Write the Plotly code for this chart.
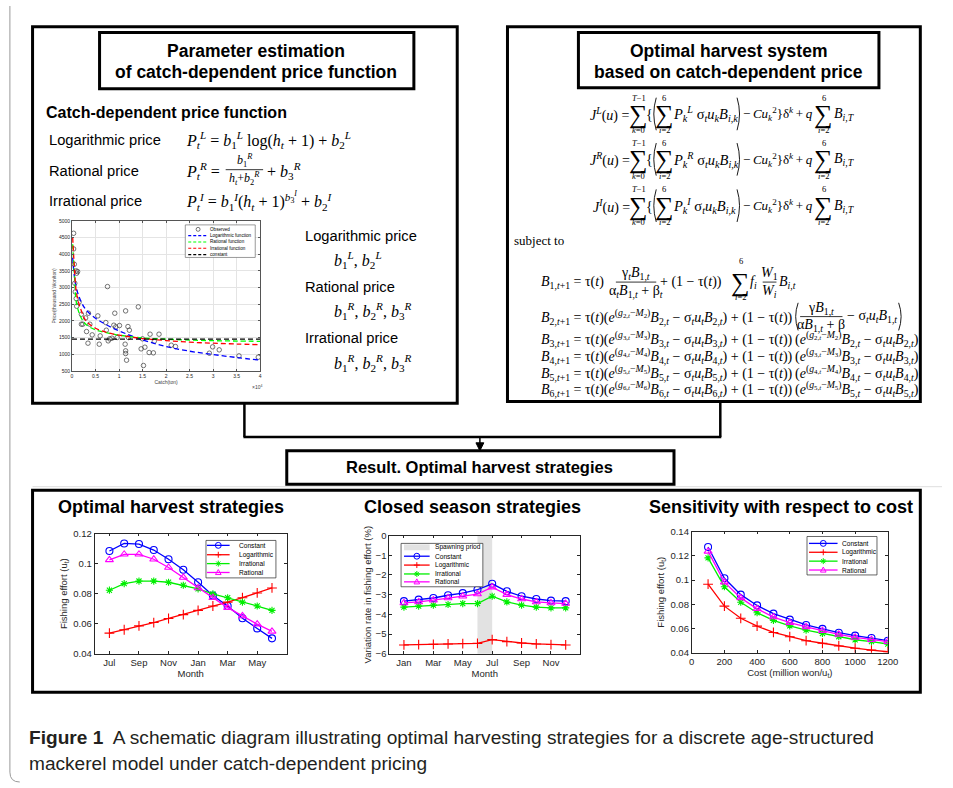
import plotly.graph_objects as go

W, H = 953, 788
SANS = "Liberation Sans, Arial, sans-serif"
SERIF = "Liberation Serif, Times New Roman, serif"
INK = "#262626"

# ---------------- data: price vs catch (top-left panel) ----------------
obs_catch = [0.035, 0.035, 0.05, 0.09, 0.12, 0.1, 0.06, 0.07, 0.09, 0.1, 0.15, 0.2, 0.2, 0.23,
             0.29, 0.31, 0.35, 0.38, 0.34, 0.43, 0.55, 0.58, 0.6, 0.755, 0.72, 0.73, 0.77, 0.8,
             0.85, 0.89, 0.91, 0.93, 1.01, 0.96, 1.14, 1.14, 1.16, 1.14, 1.19, 1.22, 1.2, 1.13,
             1.41, 1.47, 1.5, 1.52, 1.55, 1.64, 1.66, 1.73, 1.75, 1.85, 2.11, 2.2, 2.92, 2.99,
             3.13, 3.55, 3.96]
obs_price = [4630, 4160, 3700, 3500, 3480, 3430, 3130, 2870, 2670, 2440, 2560, 2200, 1900, 1900,
             2090, 1680, 2230, 1900, 1330, 1580, 2150, 1300, 1550, 3030, 1950, 1720, 1400, 1460,
             1480, 1870, 2230, 1820, 1860, 1500, 1100, 1020, 820, 2300, 1830, 1720, 1500, 1300,
             2420, 1160, 1460, 660, 1210, 1050, 1600, 1040, 1390, 1600, 1270, 1230, 1030, 1220,
             1130, 950, 910]
fit_catch = [0.015, 0.05, 0.1, 0.2, 0.3, 0.5, 0.75, 1.0, 1.5, 2.0, 2.5, 3.0, 3.5, 4.0]
fit_log = [3900, 3350, 2950, 2560, 2330, 2080, 1870, 1700, 1430, 1230, 1090, 990, 900, 820]
fit_rat = [4300, 3450, 2500, 2080, 1890, 1730, 1640, 1570, 1490, 1450, 1425, 1405, 1395, 1385]
fit_irr = [4500, 3650, 2800, 2300, 2000, 1780, 1650, 1570, 1470, 1410, 1360, 1330, 1305, 1285]
const_catch = [0, 4]
const_price = [1450, 1450]
catch_ticks = [0, 0.5, 1, 1.5, 2, 2.5, 3, 3.5, 4]
catch_ticktext = ["0", "0.5", "1", "1.5", "2", "2.5", "3", "3.5", "4"]

# ---------------- data: optimal harvest strategies (Jul..Jun) ----------------
month_pos = list(range(1, 13))
harvest_tick_pos = [1, 3, 5, 7, 9, 11]
harvest_tick_text = ["Jul", "Sep", "Nov", "Jan", "Mar", "May"]
h_constant = [0.1084, 0.1134, 0.1130, 0.1090, 0.1029, 0.0959, 0.0876, 0.0788, 0.0718, 0.0637, 0.0569, 0.0503]
h_log = [0.0538, 0.0560, 0.0586, 0.0608, 0.0635, 0.0661, 0.0689, 0.0718, 0.0744, 0.0773, 0.0805, 0.0838]
h_irr = [0.0823, 0.0867, 0.0884, 0.0884, 0.0876, 0.0856, 0.0832, 0.0799, 0.0773, 0.0744, 0.0718, 0.0689]
h_rat = [0.1025, 0.1062, 0.1062, 0.1029, 0.0974, 0.0908, 0.0838, 0.0773, 0.0707, 0.0652, 0.0597, 0.0549]

# ---------------- data: closed season strategies (Jan..Dec) ----------------
closed_tick_pos = [1, 3, 5, 7, 9, 11]
closed_tick_text = ["Jan", "Mar", "May", "Jul", "Sep", "Nov"]
spawning = [6, 7]
c_constant = [-3.33, -3.25, -3.17, -3.03, -2.92, -2.75, -2.45, -2.83, -3.08, -3.22, -3.30, -3.33]
c_log = [-5.55, -5.53, -5.52, -5.50, -5.48, -5.47, -5.28, -5.38, -5.45, -5.50, -5.53, -5.55]
c_irr = [-3.63, -3.58, -3.53, -3.50, -3.45, -3.45, -3.08, -3.37, -3.53, -3.63, -3.67, -3.67]
c_rat = [-3.42, -3.37, -3.28, -3.17, -3.08, -2.97, -2.62, -3.00, -3.22, -3.37, -3.42, -3.45]

# ---------------- data: sensitivity to cost ----------------
cost = [100, 200, 300, 400, 500, 600, 700, 800, 900, 1000, 1100, 1200]
s_constant = [0.1273, 0.1015, 0.0880, 0.0791, 0.0723, 0.0674, 0.0630, 0.0598, 0.0566, 0.0542, 0.0522, 0.0500]
s_log = [0.0966, 0.0785, 0.0685, 0.0620, 0.0568, 0.0533, 0.0500, 0.0479, 0.0457, 0.0438, 0.0422, 0.0409]
s_irr = [0.1183, 0.0945, 0.0817, 0.0731, 0.0668, 0.0622, 0.0587, 0.0560, 0.0533, 0.0508, 0.0492, 0.0473]
s_rat = [0.1237, 0.0983, 0.0853, 0.0763, 0.0695, 0.0649, 0.0614, 0.0582, 0.0552, 0.0527, 0.0508, 0.0492]

series_names = ["Constant", "Logarithmic", "Irrational", "Rational"]
series_colors = ["#0000ff", "#ff0000", "#00ee00", "#ff00ff"]
series_symbols = ["circle-open", "cross-thin-open", "asterisk-open", "triangle-up-open"]
series_glyph = ["o", "+", "*", "^"]

# ---------------- helpers ----------------
ann, shapes = [], []


def X(x):
    return x / W


def Y(y):
    return 1 - y / H


def T(x, y, s, size=14, fam=SERIF, xa="left", ya="middle", color="black"):
    ann.append(dict(x=X(x), y=Y(y), xref="paper", yref="paper", text=s, showarrow=False,
                    xanchor=xa, yanchor=ya, align="center" if xa == "center" else xa,
                    font=dict(size=size, family=fam, color=color), borderpad=0))


def L(x0, y0, x1, y1, w=2.5, color="black", dash=None):
    shapes.append(dict(type="line", xref="paper", yref="paper", x0=X(x0), y0=Y(y0), x1=X(x1), y1=Y(y1),
                       line=dict(color=color, width=w, dash=dash), layer="above"))


def R(x0, y0, x1, y1, w=3, color="black", fill="rgba(0,0,0,0)"):
    shapes.append(dict(type="rect", xref="paper", yref="paper", x0=X(x0), y0=Y(y1), x1=X(x1), y1=Y(y0),
                       line=dict(color=color, width=w), fillcolor=fill, layer="above"))


def PATH(d, w=1, color="black", fill="rgba(0,0,0,0)"):
    shapes.append(dict(type="path", xref="paper", yref="paper", path=d,
                       line=dict(color=color, width=w), fillcolor=fill, layer="above"))


def pt(x, y):
    return f"{X(x):.5f},{Y(y):.5f}"


def paren(x, y0, y1, side="left", b=3.0):
    mid = (y0 + y1) / 2
    cx = x - 2 * b if side == "left" else x + 2 * b
    PATH(f"M {pt(x, y0)} Q {pt(cx, mid)} {pt(x, y1)}", w=0.9)


def mk(kind, cx, cy, r, color, w=1.1):
    if kind == "o":
        shapes.append(dict(type="circle", xref="paper", yref="paper", x0=X(cx - r), x1=X(cx + r),
                           y0=Y(cy + r), y1=Y(cy - r), line=dict(color=color, width=w),
                           fillcolor="rgba(0,0,0,0)", layer="above"))
    elif kind == "+":
        L(cx - r, cy, cx + r, cy, w, color)
        L(cx, cy - r, cx, cy + r, w, color)
    elif kind == "*":
        L(cx - r, cy, cx + r, cy, w, color)
        L(cx, cy - r, cx, cy + r, w, color)
        L(cx - 0.7 * r, cy - 0.7 * r, cx + 0.7 * r, cy + 0.7 * r, w, color)
        L(cx - 0.7 * r, cy + 0.7 * r, cx + 0.7 * r, cy - 0.7 * r, w, color)
    elif kind == "^":
        PATH(f"M {pt(cx, cy - r)} L {pt(cx + 0.95 * r, cy + 0.7 * r)} L {pt(cx - 0.95 * r, cy + 0.7 * r)} Z",
             w=w, color=color)


def I(s):
    return f"<i>{s}</i>"


def sb(s):
    return f"<sub>{s}</sub>"


def sp(s):
    return f"<sup>{s}</sup>"


def sigma(cx, yc, top, bot, size=26, dt=17, db=16, ls=8.5):
    T(cx, yc, "∑", size, SERIF, xa="center")
    T(cx, yc - dt, top, ls, SERIF, xa="center")
    T(cx, yc + db, bot, ls, SERIF, xa="center")


def frac(cx, yc, num, den, x0, x1, size=13, dn=8.5, dd=9.5):
    T(cx, yc - dn, num, size, SERIF, xa="center")
    L(x0, yc, x1, yc, 0.8)
    T(cx, yc + dd, den, size, SERIF, xa="center")


# ---------------- figure ----------------
fig = go.Figure()

fig.add_trace(go.Scatter(x=obs_catch, y=obs_price, mode="markers", xaxis="x", yaxis="y",
                         marker=dict(symbol="circle-open", size=4.5, color="#3a3a3a", line=dict(width=0.7))))
for ys, col in [(fit_log, "#0000ff"), (fit_rat, "#00ff00"), (fit_irr, "#ff0000")]:
    fig.add_trace(go.Scatter(x=fit_catch, y=ys, mode="lines", xaxis="x", yaxis="y",
                             line=dict(color=col, width=1.3, dash="5px,3px", shape="spline")))
fig.add_trace(go.Scatter(x=const_catch, y=const_price, mode="lines", xaxis="x", yaxis="y",
                         line=dict(color="black", width=1.3, dash="5px,3px")))

shapes.append(dict(type="rect", xref="x3", yref="y3 domain", x0=spawning[0], x1=spawning[1], y0=0, y1=1,
                   fillcolor="#e2e2e2", line=dict(width=0), layer="below"))

panels = [("x2", "y2", month_pos, [h_constant, h_log, h_irr, h_rat]),
          ("x3", "y3", month_pos, [c_constant, c_log, c_irr, c_rat]),
          ("x4", "y4", cost, [s_constant, s_log, s_irr, s_rat])]
for xa, ya, xs, group in panels:
    for k, ys in enumerate(group):
        fig.add_trace(go.Scatter(x=xs, y=ys, mode="lines+markers", xaxis=xa, yaxis=ya,
                                 line=dict(color=series_colors[k], width=1.3),
                                 marker=dict(symbol=series_symbols[k], size=7 if k != 2 else 6,
                                             color=series_colors[k], line=dict(width=1.1, color=series_colors[k]))))


def dx(a, b):
    return [a / W, b / W]


def dy(a, b):
    return [1 - b / H, 1 - a / H]


def ax(size=9.5, **kw):
    d = dict(showline=True, linecolor=INK, linewidth=0.8, mirror="ticks", ticks="inside", ticklen=3,
             tickcolor=INK, tickwidth=0.8, showgrid=False, zeroline=False, fixedrange=True,
             tickfont=dict(family=SANS, size=size, color=INK))
    d.update(kw)
    return d


AXT = dict(family=SANS, size=9.5, color=INK)
small = dict(family=SANS, size=5, color="#444")

layout = dict(
    width=W, height=H, autosize=False, margin=dict(l=0, r=0, t=0, b=0),
    paper_bgcolor="white", plot_bgcolor="white", showlegend=False,
    xaxis=ax(size=5, domain=dx(70, 261), anchor="y", range=[0, 4], tickvals=catch_ticks,
             ticktext=catch_ticktext, showgrid=True, gridcolor="#e4e4e4", gridwidth=0.6, ticklen=2,
             linecolor="#555", tickcolor="#555", linewidth=0.6,
             title=dict(text="Catch(ton)", font=small, standoff=1)),
    yaxis=ax(size=5, domain=dy(218, 370), anchor="x", range=[500, 5000], dtick=500, showgrid=True,
             gridcolor="#e4e4e4", gridwidth=0.6, ticklen=2, linecolor="#555", tickcolor="#555", linewidth=0.6,
             title=dict(text="Price(thousand Won/ton)", font=small, standoff=2)),
    xaxis2=ax(domain=dx(93, 288), anchor="y2", range=[0, 13], tickvals=harvest_tick_pos,
              ticktext=harvest_tick_text, title=dict(text="Month", font=AXT, standoff=2)),
    yaxis2=ax(domain=dy(535, 657), anchor="x2", range=[0.04, 0.12], tickvals=[0.04, 0.06, 0.08, 0.1, 0.12],
              ticktext=["0.04", "0.06", "0.08", "0.1", "0.12"],
              title=dict(text="Fishing effort (u<sub>t</sub>)", font=AXT, standoff=4)),
    xaxis3=ax(domain=dx(392, 586), anchor="y3", range=[0, 13], tickvals=closed_tick_pos,
              ticktext=closed_tick_text, title=dict(text="Month", font=AXT, standoff=2)),
    yaxis3=ax(domain=dy(537, 657), anchor="x3", range=[-6, 0], dtick=1,
              title=dict(text="Variation rate in fishing effort (%)", font=AXT, standoff=2)),
    xaxis4=ax(domain=dx(699, 898), anchor="y4", range=[0, 1200], dtick=200,
              title=dict(text="Cost (million won/u<sub>t</sub>)", font=AXT, standoff=2)),
    yaxis4=ax(domain=dy(533, 656), anchor="x4", range=[0.04, 0.14],
              tickvals=[0.04, 0.06, 0.08, 0.1, 0.12, 0.14],
              ticktext=["0.04", "0.06", "0.08", "0.1", "0.12", "0.14"],
              title=dict(text="Fishing effort (u<sub>t</sub>)", font=AXT, standoff=4)),
)

# ---------------- frames / boxes ----------------
PATH(f"M {pt(7, 0)} L {pt(7, 777)} Q {pt(7, 787)} {pt(17, 787)}", w=1, color="#9a9a9a")
R(30, 21, 461, 403)
R(98, 27, 417, 84)
R(512, 21, 931, 401)
R(584, 27, 889, 83)
L(245, 403, 245, 437)
L(728, 401, 728, 437)
L(244, 437, 729, 437)
L(484, 437, 484, 446, 1.5)
PATH(f"M {pt(480, 443)} L {pt(488, 443)} L {pt(484, 451)} Z", w=1, fill="black")
R(288, 451, 681, 485)
L(30, 487.5, 953, 487.5, 1, "#dedede")
R(30, 491, 931, 696)

# ---------------- top-left text ----------------
B = lambda s: f"<b>{s}</b>"
T(257, 46, B("Parameter estimation"), 17.5, SANS, xa="center")
T(257, 67, B("of catch-dependent price function"), 17.5, SANS, xa="center")
T(43, 108, B("Catch-dependent price function"), 16, SANS)
T(46, 136, "Logarithmic price", 14.7, SANS)
T(46, 167, "Rational price", 14.7, SANS)
T(46, 198, "Irrational price", 14.7, SANS)
MS = 16
T(185, 136, I("P") + sb(I("t")) + sp(I("L")) + " = " + I("b") + sb("1") + sp(I("L")) + " log(" + I("h") + sb(I("t"))
  + " + 1) + " + I("b") + sb("2") + sp(I("L")), MS)
T(185, 167, I("P") + sb(I("t")) + sp(I("R")) + " =", MS)
frac(245, 166, I("b") + sb("1") + sp(I("R")), I("h") + sb(I("t")) + "+" + I("b") + sb("2") + sp(I("R")),
     226, 264, size=12, dn=9, dd=9)
T(267, 167, "+ " + I("b") + sb("3") + sp(I("R")), MS)
T(185, 198, I("P") + sb(I("t")) + sp(I("I")) + " = " + I("b") + sb("1") + sp(I("I")) + "(" + I("h") + sb(I("t"))
  + " + 1)" + sp(I("b") + sb("3") + sp(I("I"))) + " + " + I("b") + sb("2") + sp(I("I")), MS)

T(305, 233, "Logarithmic price", 14.7, SANS)
T(335, 258, I("b") + sb("1") + sp(I("L")) + ", " + I("b") + sb("2") + sp(I("L")), MS)
T(305, 285, "Rational price", 14.7, SANS)
T(335, 309, I("b") + sb("1") + sp(I("R")) + ", " + I("b") + sb("2") + sp(I("R")) + ", " + I("b") + sb("3") + sp(I("R")), MS)
T(305, 337, "Irrational price", 14.7, SANS)
T(335, 362, I("b") + sb("1") + sp(I("R")) + ", " + I("b") + sb("2") + sp(I("R")) + ", " + I("b") + sb("3") + sp(I("R")), MS)

# scatter extras
T(258, 386, "×10" + sp("4"), 5, SANS, xa="center", color="#444")
R(185, 222, 256, 255, 0.6, "#555", "white")
leg_fit = [("Observed", None), ("Logarithmic function", "#0000ff"), ("Rational function", "#00ff00"),
           ("Irrational function", "#ff0000"), ("constant", "black")]
for k, (name, col) in enumerate(leg_fit):
    yy = 226.5 + k * 6.4
    if col is None:
        mk("o", 198, yy, 2, "#3a3a3a", 0.7)
    else:
        L(188, yy, 207, yy, 1.1, col, "3px,2px")
    T(209, yy, name, 4.6, SANS)

# ---------------- top-right text ----------------
T(736, 46, B("Optimal harvest system"), 17.5, SANS, xa="center")
T(736, 67, B("based on catch-dependent price"), 17.5, SANS, xa="center")

TH = "\u2009"


def jrow(yc, let):
    T(637, yc, I("J") + sp(I(let)) + "(" + I("u") + ") =", 14, xa="right")
    sigma(645, yc, I("T") + "−1", I("k") + "=0")
    T(652, yc, "{", 14)
    paren(663, yc - 17, yc + 16, "left", 2.5)
    sigma(671, yc, "6", I("i") + "=2")
    T(679, yc, I("P") + sb(I("k")) + sp(I(let)) + " σ" + sb(I("t")) + I("u") + sb(I("k")) + I("B") + sb(I("i,k")), 14.5)
    paren(745, yc - 17, yc + 16, "right", 2.5)
    T(750, yc, "−" + TH + I("Cu") + sb(I("k")) + sp("2") + "}δ" + sp(I("k")) + TH + "+" + TH + I("q"), 13)
    sigma(833, yc, "6", I("i") + "=2")
    T(842, yc, I("B") + sb(I("i,T")), 14)


jrow(110, "L")
jrow(156, "R")
jrow(203, "I")

T(518, 238, "subject to", 13)

BS = 14
t_ = I("t")
yB = [280, 315, 338, 355, 372, 388]
T(545, yB[0], I("B") + sb("1," + t_ + "+1") + " = τ(" + t_ + ")", BS)
frac(642, yB[0], "γ" + sb(t_) + I("B") + sb("1," + t_), "α" + sb(t_) + I("B") + sb("1," + t_) + " + β" + sb(t_),
     622, 663, size=BS)
T(666, yB[0], "+ (1 − τ(" + t_ + "))", BS)
sigma(749, yB[0], "6", I("i") + "=2", dt=21, db=15)
T(757, yB[0], I("f") + sb(I("i")), BS)
frac(778, yB[0], I("W") + sb("1"), I("W") + sb(I("i")), 771, 785, size=BS)
T(787, yB[0], I("B") + sb(I("i,t")), BS)


def part1(k):
    ks = str(k)
    return (I("B") + sb(ks + "," + t_ + "+1") + " = τ(" + t_ + ")(" + I("e") +
            sp("(" + I("g") + sb(ks + "," + t_) + "−" + I("M") + sb(ks) + ")") + I("B") + sb(ks + "," + t_) +
            " − σ" + sb(t_) + I("u") + sb(t_) + I("B") + sb(ks + "," + t_) + ") + (1 − τ(" + t_ + "))")


def part2(k):
    ks = str(k)
    return ("(" + I("e") + sp("(" + I("g") + sb(ks + "," + t_) + "−" + I("M") + sb(ks) + ")") + I("B") +
            sb(ks + "," + t_) + " − σ" + sb(t_) + I("u") + sb(t_) + I("B") + sb(ks + "," + t_) + ")")


T(545, yB[1], part1(2), BS)
paren(807, yB[1] - 14, yB[1] + 14, "left", 2.5)
frac(830, yB[1], "γ" + I("B") + sb("1," + t_), "α" + I("B") + sb("1," + t_) + " + β", 809, 852, size=BS, dn=8, dd=9.5)
T(856, yB[1], "− σ" + sb(t_) + I("u") + sb(t_) + I("B") + sb("1," + t_), BS)
paren(909, yB[1] - 14, yB[1] + 14, "right", 2.5)
for k, yc in zip([3, 4, 5, 6], yB[2:]):
    T(545, yc, part1(k), BS)
    T(803, yc, part2(k - 1), BS)

# ---------------- result ----------------
T(484, 468, B("Result. Optimal harvest strategies"), 16.5, SANS, xa="center")
T(171, 508, B("Optimal harvest strategies"), 18, SANS, xa="center")
T(477, 508, B("Closed season strategies"), 18, SANS, xa="center")
T(790, 508, B("Sensitivity with respect to cost"), 18, SANS, xa="center")

LF = 6.6


def legend(box, x_line, x_text, ys, items):
    R(*box, w=0.7, color=INK, fill="white")
    for (kind, name, col), yy in zip(items, ys):
        if kind == "band":
            R(x_line[0], yy - 3, x_line[1], yy + 3, w=0, color="#e2e2e2", fill="#e2e2e2")
        else:
            L(x_line[0], yy, x_line[1], yy, 1.3, col)
            mk(kind, (x_line[0] + x_line[1]) / 2, yy, 3, col, 1.0)
        T(x_text, yy, name, LF, SANS, color="black")


items = [(series_glyph[k], series_names[k], series_colors[k]) for k in range(4)]
legend((206, 542, 277, 580), (207, 230), 239, [547, 556.5, 565.5, 574.5], items)
legend((404, 545, 487, 589), (407, 433), 437, [549, 558, 567, 576, 584],
       [("band", "Spawning priod", None)] + items)
legend((816, 538, 887, 577), (818, 847), 850, [545, 554, 563, 572], items)

# ---------------- caption ----------------
T(25, 742, "<b>Figure 1</b>  A schematic diagram illustrating optimal harvesting strategies for a discrete age-structured",
  19.1, SANS, color="#231f20")
T(25, 768, "mackerel model under catch-dependent pricing", 19.1, SANS, color="#231f20")

layout["annotations"] = ann
layout["shapes"] = shapes
fig.update_layout(**layout)
fig.write_html("out.html", config={"displayModeBar": False},
               post_script="document.body.style.margin='0';")
